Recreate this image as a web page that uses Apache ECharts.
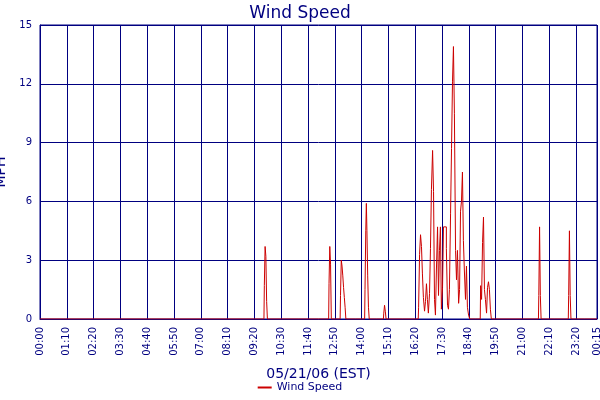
<!DOCTYPE html>
<html>
<head>
<meta charset="utf-8">
<script src="https://cdn.jsdelivr.net/npm/echarts@6/dist/echarts.min.js"></script>
<style>html,body{margin:0;padding:0;background:#fff}#chart{width:600px;height:400px}</style>
</head>
<body>
<div id="chart"></div>
<script>
// minutes since 00:00 and wind speed (MPH); zeros between spikes
const minutes = [0, 585, 587, 589, 591, 593, 595,
    754, 756, 758, 760, 762,
    784, 786, 788, 790, 792, 794, 796, 798, 800,
    848, 850, 852, 853, 855, 857, 859, 861,
    897, 899, 901, 903, 905,
    988, 990, 993, 995, 998, 1000, 1003, 1006, 1008, 1011, 1013, 1016,
    1019, 1021, 1024, 1027, 1029, 1032,
    1034, 1037, 1040, 1042, 1045, 1047, 1050, 1053, 1055, 1058, 1060, 1063, 1066,
    1068, 1071, 1074, 1076, 1079, 1081, 1084, 1087, 1089, 1092, 1095,
    1097, 1100, 1102, 1105, 1107, 1110, 1113, 1115, 1118, 1121, 1124,
    1150, 1152, 1155, 1157, 1160, 1162, 1165, 1168, 1170, 1173, 1175, 1178, 1180,
    1302, 1304, 1306, 1308, 1310,
    1380, 1382, 1384, 1386, 1388, 1455];
const speeds = [0, 0, 1.7, 3.7, 3.2, 0.9, 0,
    0, 1.8, 3.7, 2.8, 0,
    0, 1.2, 3.0, 2.7, 2.2, 1.6, 1.1, 0.6, 0,
    0, 1.5, 4.5, 5.9, 4.5, 2.2, 0.6, 0,
    0, 0.3, 0.7, 0.4, 0,
    0, 0.6, 3.3, 4.3, 3.7, 2.3, 1.1, 0.4, 0.9, 1.8, 1.0, 0.3,
    1.3, 3.6, 6.6, 8.6, 6.5, 1.0,
    0.2, 2.5, 4.7, 1.2, 3.5, 4.7, 0.5, 1.6, 4.7, 4.7, 4.7, 3.6, 0.7,
    0.5, 1.5, 5.4, 8.7, 12.1, 13.9, 10.5, 3.5, 2.0, 3.5, 0.8,
    1.5, 5.5, 6.0, 7.5, 4.0, 2.5, 1.0, 2.7, 0.6, 0.2, 0,
    0, 1.7, 1.0, 3.9, 5.2, 1.5, 1.0, 0.3, 1.6, 1.9, 1.5, 0.5, 0,
    0, 1.2, 4.7, 1.2, 0,
    0, 1.2, 4.5, 1.2, 0, 0];

const seriesName = 'Wind Speed';
const yTicks = [0, 3, 6, 9, 12, 15];

const navy = '#000080';
const chartDom = document.getElementById('chart');
const myChart = echarts.init(chartDom);

function hhmm(m) {
    const t = Math.round(m) % 1440;
    const h = Math.floor(t / 60), mm = t % 60;
    return String(h).padStart(2, '0') + ':' + String(mm).padStart(2, '0');
}

myChart.setOption({
    animation: false,
    textStyle: { fontFamily: 'DejaVu Sans' },
    title: {
        text: 'Wind Speed', left: 'center', top: 0,
        textStyle: { color: navy, fontSize: 17, fontWeight: 'normal' }
    },
    legend: {
        bottom: 2, left: 'center',
        icon: 'rect', itemWidth: 14, itemHeight: 2,
        textStyle: { color: navy, fontSize: 11 },
        data: [seriesName]
    },
    grid: {
        left: 40, right: 3, top: 25, bottom: 81,
        containLabel: false, outerBoundsMode: 'none',
        show: true, borderColor: navy, borderWidth: 1
    },
    xAxis: {
        type: 'value', min: 0, max: 1455, interval: 70,
        name: '05/21/06 (EST)', nameLocation: 'middle', nameGap: 48,
        nameTextStyle: { color: navy, fontSize: 14 },
        axisLine: { lineStyle: { color: navy } },
        axisTick: { show: false },
        axisLabel: { color: navy, fontSize: 10, rotate: 90, showMaxLabel: true, formatter: v => hhmm(v) },
        splitLine: { lineStyle: { color: navy, width: 1 } }
    },
    yAxis: {
        type: 'value', min: 0, max: yTicks[yTicks.length - 1], interval: 3,
        name: 'MPH', nameLocation: 'middle', nameGap: 26,
        nameTextStyle: { color: navy, fontSize: 14 },
        axisLine: { show: true, lineStyle: { color: navy } },
        axisTick: { show: false },
        axisLabel: { color: navy, fontSize: 10 },
        splitLine: { lineStyle: { color: navy, width: 1 } }
    },
    series: [{
        name: seriesName, type: 'line', step: 'middle', showSymbol: false,
        itemStyle: { color: '#cc0000' },
        lineStyle: { color: '#cc0000', width: 1 },
        data: minutes.map((m, i) => [m, speeds[i]])
    }]
});
window.addEventListener('resize', () => myChart.resize());
</script>
</body>
</html>
